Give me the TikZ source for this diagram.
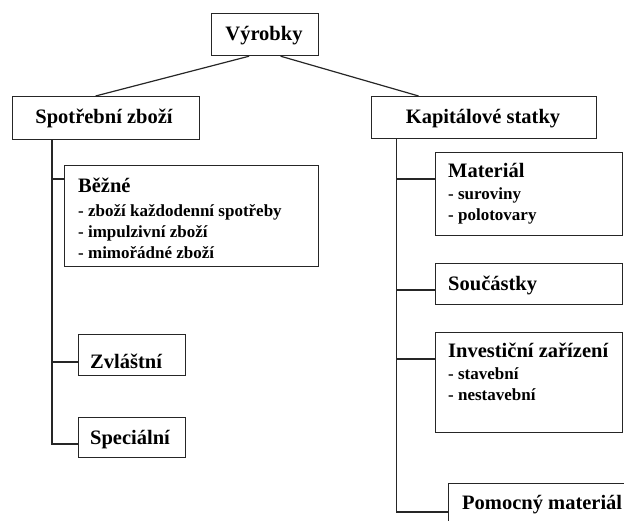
\documentclass[tikz,border=0pt]{standalone}
\usepackage{fontspec}
\setmainfont{Liberation Serif}
\begin{document}
\begin{tikzpicture}[x=1pt,y=-1pt,
  box/.style={draw=black!85, line width=1.2pt, fill=white, rectangle, inner sep=0pt, anchor=north west},
  conn/.style={draw=black!85, line width=1.2pt},
  ttl/.style={inner sep=0pt, font=\fontsize{20.5}{24}\selectfont\bfseries},
  sub/.style={inner sep=0pt, font=\fontsize{17}{20}\selectfont\bfseries}]
\useasboundingbox (0,0) rectangle (624,520);
% boxes
\node[box, minimum width=107pt, minimum height=42pt] (vyr) at (211,13) {};
\node[box, minimum width=187pt, minimum height=43pt] (spo) at (12,96) {};
\node[box, minimum width=225pt, minimum height=42pt] (kap) at (371,96) {};
\node[box, minimum width=254pt, minimum height=101pt] (bez) at (64,165) {};
\node[box, minimum width=107pt, minimum height=41pt] (zvl) at (78,334) {};
\node[box, minimum width=107pt, minimum height=40pt] (spe) at (78,417) {};
\node[box, minimum width=187pt, minimum height=83pt] (mat) at (435,152) {};
\node[box, minimum width=187pt, minimum height=41pt] (sou) at (435,263) {};
\node[box, minimum width=187pt, minimum height=100pt] (inv) at (435,332) {};
\node[box, minimum width=200pt, minimum height=50pt] (pom) at (448,483) {};
% texts
\node[ttl, anchor=base] (tvyr) at (264,40) {Výrobky};
\node[ttl, anchor=base] (tspo) at (104,123.5) {Spotřební zboží};
\node[ttl, anchor=base] (tkap) at (483,123.5) {Kapitálové statky};
\node[ttl, anchor=base west] (tbez) at (78,192) {Běžné};
\node[sub, anchor=base west] (tbez1) at (78,216) {- zboží každodenní spotřeby};
\node[sub, anchor=base west] (tbez2) at (78,237) {- impulzivní zboží};
\node[sub, anchor=base west] (tbez3) at (78,258) {- mimořádné zboží};
\node[ttl, anchor=base west] (tzvl) at (90,368) {Zvláštní};
\node[ttl, anchor=base west] (tspe) at (90,444) {Speciální};
\node[ttl, anchor=base west] (tmat) at (448,177) {Materiál};
\node[sub, anchor=base west] (tmat1) at (448,199) {- suroviny};
\node[sub, anchor=base west] (tmat2) at (448,220) {- polotovary};
\node[ttl, anchor=base west] (tsou) at (448,290) {Součástky};
\node[ttl, anchor=base west] (tinv) at (448,357) {Investiční zařízení};
\node[sub, anchor=base west] (tinv1) at (448,379) {- stavební};
\node[sub, anchor=base west] (tinv2) at (448,400) {- nestavební};
\node[ttl, anchor=base west] (tpom) at (462,509) {Pomocný materiál};
% connectors from the root
\draw[conn] ([xshift=-16pt]vyr.south) -- ([xshift=-10.5pt]spo.north);
\draw[conn] ([xshift=15.5pt]vyr.south) -- ([xshift=-65.5pt]kap.north);
% left branch
\coordinate (lv) at (52,0);
\coordinate (lend) at (52,444);
\draw[conn] (spo.south -| lv) -- (lend) -- (lend -| spe.west);
\draw[conn] (lv |- 0,179) -- (bez.west |- 0,179);
\draw[conn] (lv |- 0,362) -- (zvl.west |- 0,362);
% right branch
\coordinate (rv) at (396.5,0);
\coordinate (rend) at (396.5,512);
\draw[conn] (kap.south -| rv) -- (rend) -- (rend -| pom.west);
\draw[conn] (rv |- 0,179) -- (mat.west |- 0,179);
\draw[conn] (rv |- 0,290) -- (sou.west |- 0,290);
\draw[conn] (rv |- 0,359) -- (inv.west |- 0,359);
\end{tikzpicture}
\end{document}
